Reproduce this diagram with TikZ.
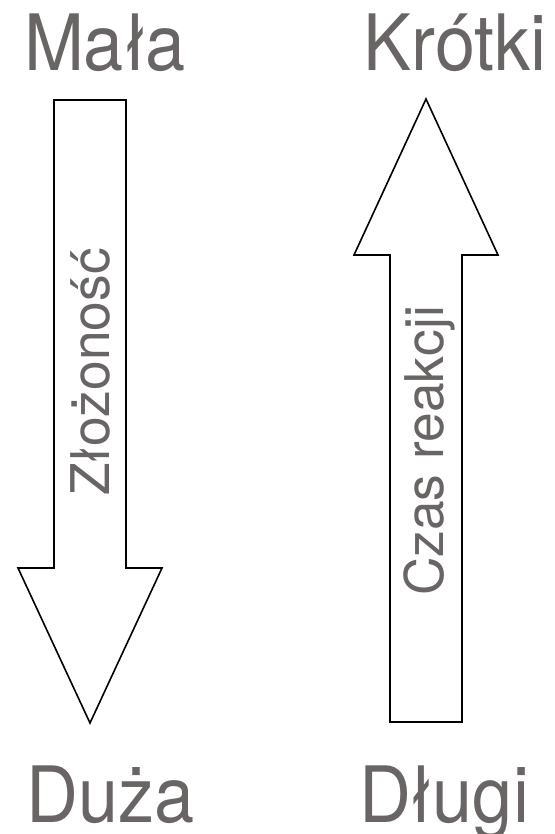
\documentclass[tikz,border=0pt]{standalone}
\usepackage{fontspec}
\setmainfont{TeX Gyre Heros}
\definecolor{labelgrey}{RGB}{104,101,100}
% end labels are set slightly taller than the regular face
\newcommand{\tallword}[1]{\scalebox{1}[1.08]{#1}}
\begin{document}
\begin{tikzpicture}[x=0.75pt,y=-0.75pt,
  arrowshape/.style={draw=black,line width=1.2pt,fill=white,line join=miter},
  endlabel/.style={text=labelgrey,inner sep=0pt,anchor=base,font=\fontsize{54}{60}\selectfont},
  axislabel/.style={text=labelgrey,inner sep=0pt,anchor=base,rotate=90,font=\fontsize{40}{46}\selectfont}]
\useasboundingbox (0,0) rectangle (554,834);

% downward arrow: complexity
\draw[arrowshape] (54,100) -- (126,100) -- (126,568) -- (162,568) -- (90,723)
  -- (18,568) -- (54,568) -- cycle;
% upward arrow: reaction time
\draw[arrowshape] (426,99) -- (498,255) -- (462,255) -- (462,722) -- (390,722)
  -- (390,255) -- (354,255) -- cycle;

\node[axislabel] (zlo) at (109,372) {Złożoność};
\node[axislabel] (czas) at (443,451) {Czas reakcji};

\node[endlabel] (mala) at (105,71) {\tallword{Mała}};
\node[endlabel] (krotki) at (455,71) {\tallword{Krótki}};
\node[endlabel] (duza) at (111,822) {\tallword{Duża}};
\node[endlabel] (dlugi) at (444,822) {\tallword{Długi}};
\end{tikzpicture}
\end{document}
